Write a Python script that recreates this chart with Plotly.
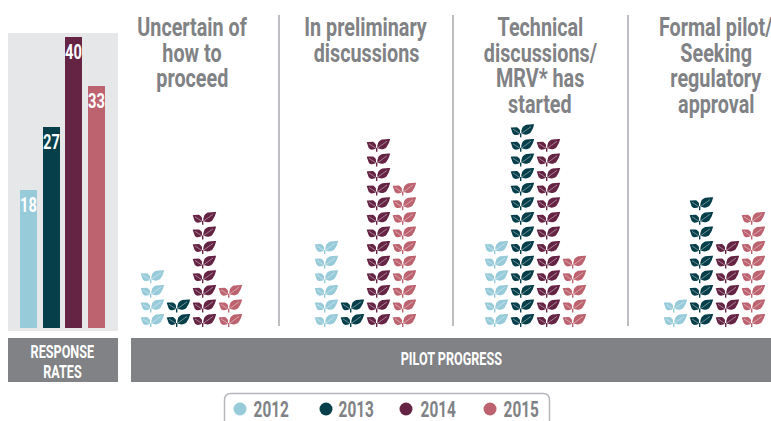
import math
import plotly.graph_objects as go

years = ["2012", "2013", "2014", "2015"]
colors = ["#97cbd9", "#063f4a", "#662445", "#bd6370"]
response_rates = [18, 27, 40, 33]
stage_lines = [["Uncertain of", "how to", "proceed"],
               ["In preliminary", "discussions"],
               ["Technical", "discussions/", "MRV* has", "started"],
               ["Formal pilot/", "Seeking", "regulatory", "approval"]]
leaf_counts = {
    "2012": [4, 6, 6, 2],
    "2013": [2, 2, 14, 9],
    "2014": [8, 13, 13, 6],
    "2015": [3, 10, 5, 8],
}

FONT = "Roboto"
GREY = "#808285"
W, H = 771, 421
COL_X = [[153, 179, 205, 231], [327, 353, 379, 405], [497, 523, 549, 575], [676, 702, 728, 754]]
TITLE_X = [192, 366, 540, 716]
DIVIDERS = [279, 453, 628]
BASE_Y, STEP = 327, 14.6


def lens(x0, y0, x1, y1, w, n=12):
    dx, dy = x1 - x0, y1 - y0
    L = math.hypot(dx, dy)
    nx, ny = -dy / L, dx / L
    pts = []
    for sign in (1, -1):
        ts = [i / n for i in range(n + 1)]
        if sign < 0:
            ts = ts[::-1]
        for t in ts:
            o = sign * w * math.sin(math.pi * t ** 0.8)
            pts.append((x0 + dx * t + nx * o, y0 + dy * t + ny * o))
    return pts


LEFT = ((-0.7, -3.4), (-10.0, -9.6), 4.0)
RIGHT = ((0.7, -3.6), (13.5, -12.9), 4.7)

fig = go.Figure()

for yi, year in enumerate(years):
    fx, fy, vx, vy = [], [], [], []
    sx, sy = [], []
    for g, count in enumerate(leaf_counts[year]):
        cx = COL_X[g][yi] - 2.3
        for r in range(count):
            by = BASE_Y - STEP * r
            for (a, b, w) in (LEFT, RIGHT):
                for px, py in lens(a[0], a[1], b[0], b[1], w):
                    fx.append(cx + px)
                    fy.append(by + py)
                fx.append(None)
                fy.append(None)
                vx += [cx + a[0], cx + a[0] + (b[0] - a[0]) * 0.75, None]
                vy += [by + a[1], by + a[1] + (b[1] - a[1]) * 0.75, None]
            sx += [cx, cx, None]
            sy += [by, by - 4, None]
    fig.add_trace(go.Scatter(x=fx, y=fy, mode="lines", fill="toself", fillcolor=colors[yi],
                             line=dict(width=0, color=colors[yi]), hoverinfo="skip", showlegend=False))
    fig.add_trace(go.Scatter(x=sx, y=sy, mode="lines", line=dict(width=1.4, color=colors[yi]),
                             hoverinfo="skip", showlegend=False))
    fig.add_trace(go.Scatter(x=vx, y=vy, mode="lines", line=dict(width=0.6, color="rgba(255,255,255,0.7)"),
                             hoverinfo="skip", showlegend=False))

fig.add_trace(go.Bar(x=[0, 1, 2, 3], y=[v + 1.87 for v in response_rates], base=-1.87,
                     width=0.75, marker=dict(color=colors, line=dict(width=0)),
                     text=[str(v) for v in response_rates], textposition="inside",
                     insidetextanchor="end", textangle=0, constraintext="none",
                     insidetextfont=dict(family=FONT, size=21, color="white", weight="bold"),
                     xaxis="x2", yaxis="y2", showlegend=False, hoverinfo="skip"))

shapes = [
    dict(type="rect", xref="x", yref="y", x0=8, x1=118, y0=33, y1=331, fillcolor="#e6e7e8",
         line_width=0, layer="below"),
    dict(type="rect", xref="x", yref="y", x0=8, x1=118, y0=338, y1=382, fillcolor=GREY,
         line_width=0, layer="below"),
    dict(type="rect", xref="x", yref="y", x0=131, x1=771, y0=338, y1=382, fillcolor=GREY,
         line_width=0, layer="below"),
    dict(type="path", xref="x", yref="y", layer="below",
         path="M 224.5 425 L 224.5 400 Q 224.5 393.5 231 393.5 L 543 393.5 Q 549.5 393.5 549.5 400 L 549.5 425",
         line=dict(color="#b5b7ba", width=1.5)),
]
for d in DIVIDERS:
    shapes.append(dict(type="line", xref="x", yref="y", x0=d, x1=d, y0=15, y1=326,
                       line=dict(color="#a7a9ac", width=1.5), layer="below"))

annotations = []


def label(x, y, text, size, color):
    annotations.append(dict(x=x, y=y, xref="x", yref="y", text=text, showarrow=False,
                            xanchor="center", yanchor="middle",
                            font=dict(family=FONT, size=size, color=color, weight="bold")))


for g, lines in enumerate(stage_lines):
    for i, line in enumerate(lines):
        label(TITLE_X[g], 27 + 25.7 * i, line, 26, GREY)

label(62, 351, "RESPONSE", 18, "white")
label(62, 371, "RATES", 18, "white")
label(451, 358, "PILOT PROGRESS", 18, "white")

LEG_DOT = [240, 326, 406, 490]
LEG_TXT = [271, 356, 438, 521]
fig.add_trace(go.Scatter(x=LEG_DOT, y=[409] * 4, mode="markers",
                         marker=dict(size=13, color=colors, line_width=0),
                         hoverinfo="skip", showlegend=False))
for y, tx in zip(years, LEG_TXT):
    label(tx, 409, y, 22, GREY)

fig.update_layout(
    width=W, height=H, margin=dict(l=0, r=0, t=0, b=0),
    paper_bgcolor="white", plot_bgcolor="rgba(0,0,0,0)",
    xaxis=dict(domain=[0, 1], range=[0, W], visible=False, fixedrange=True),
    yaxis=dict(domain=[0, 1], range=[H, 0], visible=False, fixedrange=True),
    xaxis2=dict(domain=[8 / W, 118 / W], range=[-0.903, 3.94], visible=False, anchor="y2", fixedrange=True),
    yaxis2=dict(domain=[1 - 331 / H, 1 - 33 / H], range=[(315 - 331) / 6.95, (315 - 33) / 6.95],
                visible=False, anchor="x2", fixedrange=True),
    shapes=shapes, annotations=annotations, showlegend=False, bargap=0,
)

# The reference uses a condensed face: narrow the real text glyphs, and drop the page margin.
post = """
document.body.style.margin = '0';
document.documentElement.style.overflow = 'hidden';
document.querySelectorAll('.annotation-text, .bartext').forEach(function (t) {
    var k = parseFloat(t.style.fontSize) >= 26 ? 0.76 : 0.7;
    t.setAttribute('textLength', (t.getComputedTextLength() * k).toFixed(1));
    t.setAttribute('lengthAdjust', 'spacingAndGlyphs');
});
"""
fig.write_html("out.html", post_script=post, config=dict(displayModeBar=False))
